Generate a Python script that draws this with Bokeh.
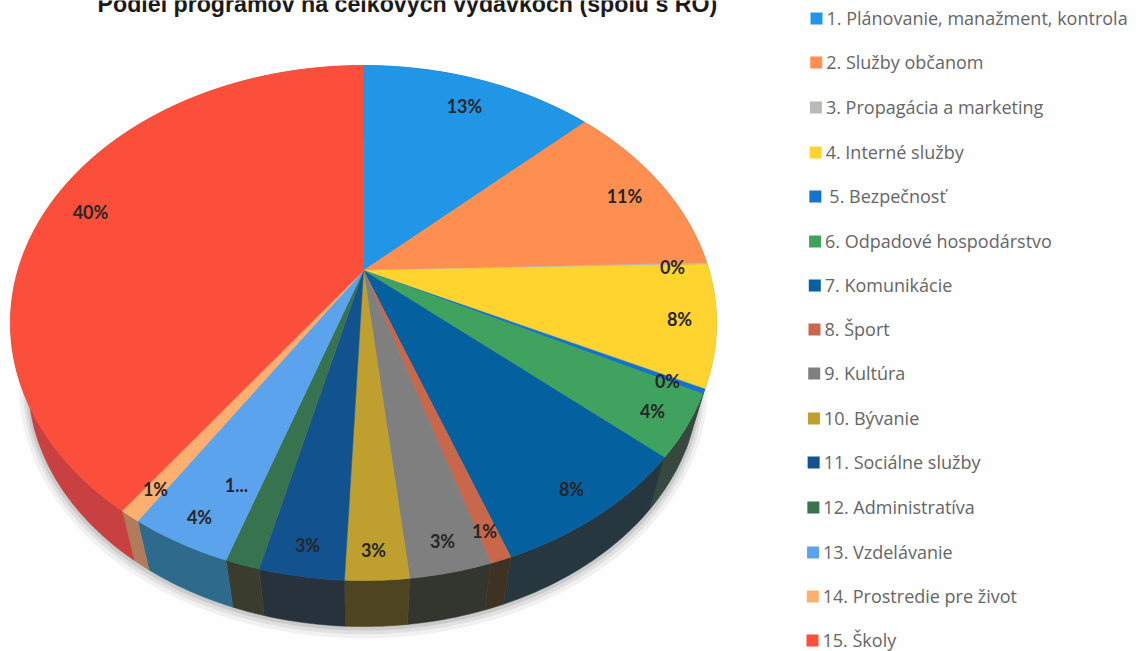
import math
from bokeh.plotting import figure
from bokeh.models import Range1d
from bokeh.core.properties import value
from bokeh.embed import file_html
from bokeh.resources import INLINE

title_text = "Podiel programov na celkových výdavkoch (spolu s RO)"
categories = ["1. Plánovanie, manažment, kontrola", "2. Služby občanom", "3. Propagácia a marketing",
              "4. Interné služby", "5. Bezpečnosť", "6. Odpadové hospodárstvo", "7. Komunikácie", "8. Šport",
              "9. Kultúra", "10. Bývanie", "11. Sociálne služby", "12. Administratíva", "13. Vzdelávanie",
              "14. Prostredie pre život", "15. Školy"]
shares = [13.0, 11.5, 0.1, 7.6, 0.3, 3.9, 8.0, 0.8, 3.1, 2.4, 3.2, 1.3, 3.9, 0.8, 40.1]
pct_labels = ["13%", "11%", "0%", "8%", "0%", "4%", "8%", "1%", "3%", "3%", "3%", "1...", "4%", "1%", "40%"]
top_colors = ["#2196E6", "#FF8F50", "#B9B9B9", "#FFD42E", "#1573CC", "#3FA35F", "#05609F", "#C9674A",
              "#7F7F7F", "#BFA02F", "#12528F", "#38734F", "#5CA3EE", "#FFB070", "#FB4F3C"]
wall_colors = ["#155E96", "#B0623A", "#808080", "#B09020", "#124E86", "#36483F", "#27373F", "#3E3322",
               "#33352F", "#4E4420", "#28323C", "#3A3D2E", "#2E6A8C", "#B07C5C", "#C8403F"]

# layout
W, H = 1145, 651
CX, CY = 363, 270
A, B, K = 345.6, 246.8, 0.204
WALL_DY, WALL_S = 61.5, 0.95
label_xy = [(464, 105), (624, 195), (672, 266), (679, 318), (667, 380), (652, 410), (571, 488), (484, 530),
            (442, 540), (373, 549), (307, 544), (236, 484), (199, 516), (155, 488), (90, 211)]
row_y = [17, 61, 106, 151, 195, 240, 284, 328, 372, 417, 461, 506, 551, 595, 639]


def rim(pct):
    t = 2 * math.pi * pct / 100
    u, v = math.sin(t), math.cos(t)
    d = 1 + K * v
    return A * u / d, -B * v / d


def arc(a, b):
    n = max(2, int((b - a) * 4) + 2)
    return [rim(a + (b - a) * i / (n - 1)) for i in range(n)]


p = figure(width=W, height=H, x_range=Range1d(0, W), y_range=Range1d(H, 0), toolbar_location=None,
           output_backend="svg", x_axis_type=None, y_axis_type=None, min_border=0,
           outline_line_color=None, background_fill_color="#FEFEFE", border_fill_color="#FEFEFE",
           margin=(0, 0, 0, 0))
p.grid.visible = False

# soft shadow under the pie
whole = arc(0, 100)
for s, dy, al in [(0.975, 4, 0.05), (0.965, 3, 0.07), (0.958, 1.5, 0.09)]:
    p.patch([CX + s * x for x, y in whole], [CY + WALL_DY + dy + s * y for x, y in whole],
            fill_color="#000000", fill_alpha=al, line_color=None)

edges = [0]
for s in shares:
    edges.append(edges[-1] + s)

# walls
wx, wy = [], []
for a, b in zip(edges[:-1], edges[1:]):
    pts = arc(a, b)
    wx.append([CX + x for x, y in pts] + [CX + WALL_S * x for x, y in reversed(pts)])
    wy.append([CY + y for x, y in pts] + [CY + WALL_DY + WALL_S * y for x, y in reversed(pts)])
p.patches(wx, wy, fill_color=wall_colors, line_color=wall_colors, line_width=0.5)

# top face
tx, ty = [], []
for a, b in zip(edges[:-1], edges[1:]):
    pts = arc(a, b)
    tx.append([CX] + [CX + x for x, y in pts])
    ty.append([CY] + [CY + y for x, y in pts])
p.patches(tx, ty, fill_color=top_colors, line_color=top_colors, line_width=0.5)

# percentage labels
p.text([q[0] for q in label_xy], [q[1] for q in label_xy], text=pct_labels, text_font=value("Lato"),
       text_font_style="bold", text_font_size="18px", text_color="#262626", text_align="center",
       text_baseline="middle")

# title (the reference scan cuts its top off at the page edge)
p.text([97], [3], text=[title_text], text_font=value("Liberation Sans"), text_font_style="bold",
       text_font_size="23.2px", text_color="#1a1a1a", text_align="left", text_baseline="alphabetic")

# legend
n = len(categories)
sq_x = [816 - 4 * i / (n - 1) for i in range(n)]
txt_x = [sq_x[i] + 10 + (4 if categories[i].startswith("5.") else 0) for i in range(n)]
p.scatter(sq_x, [y + 1 for y in row_y], marker="square", size=12, fill_color=top_colors, line_color=None)
p.text(txt_x, row_y, text=categories, text_font=value("Open Sans"), text_font_size="18px",
       text_color="#666666", text_align="left", text_baseline="middle")

open("out.html", "w").write(file_html(p, INLINE))
